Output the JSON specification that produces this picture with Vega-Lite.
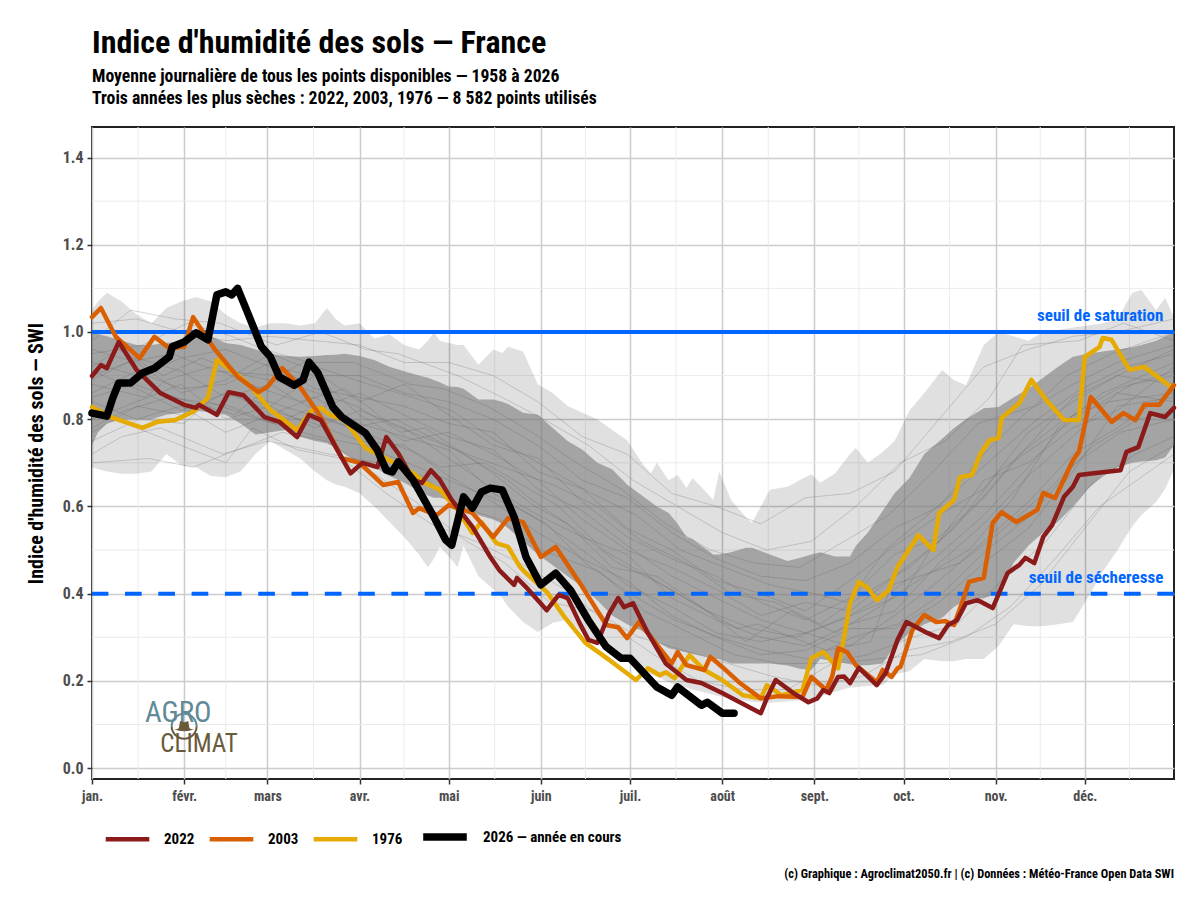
{
"$schema":"https://vega.github.io/schema/vega-lite/v6.json",
"description":"Indice d'humidité des sols en France, 1958 à 2026",
"width":1082,"height":652,
"autosize":"none",
"padding":{"left":92,"top":127,"right":26,"bottom":121},
"background":"white",
"title":{"text":"Indice d'humidité des sols — France","subtitle":["Moyenne journalière de tous les points disponibles — 1958 à 2026","Trois années les plus sèches : 2022, 2003, 1976 — 8 582 points utilisés"],"anchor":"start","frame":"group","font":"Roboto Condensed","fontSize":32,"fontWeight":"bold","color":"black","subtitleFont":"Roboto Condensed","subtitleFontSize":17.7,"subtitleFontWeight":"bold","subtitleColor":"black","subtitleLineHeight":22,"subtitlePadding":8,"offset":18},
"config":{"view":{"stroke":"#222222","strokeWidth":2},"font":"Roboto Condensed"},
"datasets":{
"enveloppe":[
{"jour":1,"max":1.05,"min":0.69,"haut":1.0,"bas":0.74},
{"jour":3,"max":1.07,"min":0.685,"haut":0.995,"bas":0.77},
{"jour":6,"max":1.09,"min":0.68,"haut":0.99,"bas":0.79},
{"jour":11,"max":1.07,"min":0.675,"haut":0.98,"bas":0.8},
{"jour":16,"max":1.04,"min":0.675,"haut":0.97,"bas":0.8},
{"jour":21,"max":1.02,"min":0.68,"haut":0.97,"bas":0.8},
{"jour":26,"max":1.055,"min":0.72,"haut":0.975,"bas":0.81},
{"jour":31,"max":1.07,"min":0.695,"haut":0.98,"bas":0.815},
{"jour":36,"max":1.08,"min":0.69,"haut":0.99,"bas":0.82},
{"jour":41,"max":1.07,"min":0.67,"haut":0.99,"bas":0.815},
{"jour":46,"max":1.04,"min":0.667,"haut":0.975,"bas":0.81},
{"jour":51,"max":1.02,"min":0.68,"haut":0.97,"bas":0.79},
{"jour":56,"max":1.01,"min":0.72,"haut":0.96,"bas":0.765},
{"jour":61,"max":1.02,"min":0.75,"haut":0.95,"bas":0.77},
{"jour":66,"max":1.02,"min":0.73,"haut":0.945,"bas":0.775},
{"jour":71,"max":1.015,"min":0.71,"haut":0.943,"bas":0.76},
{"jour":76,"max":1.02,"min":0.68,"haut":0.945,"bas":0.75},
{"jour":80,"max":1.055,"min":0.66,"haut":0.947,"bas":0.745},
{"jour":83,"max":1.03,"min":0.65,"haut":0.948,"bas":0.735},
{"jour":86,"max":1.015,"min":0.645,"haut":0.95,"bas":0.72},
{"jour":91,"max":1.02,"min":0.63,"haut":0.945,"bas":0.7},
{"jour":96,"max":0.985,"min":0.6,"haut":0.936,"bas":0.69},
{"jour":101,"max":0.995,"min":0.565,"haut":0.92,"bas":0.67},
{"jour":106,"max":0.97,"min":0.53,"haut":0.91,"bas":0.655},
{"jour":111,"max":0.96,"min":0.49,"haut":0.9,"bas":0.635},
{"jour":114,"max":0.98,"min":0.46,"haut":0.895,"bas":0.625},
{"jour":116,"max":1.0,"min":0.48,"haut":0.89,"bas":0.62},
{"jour":118,"max":0.98,"min":0.507,"haut":0.885,"bas":0.62},
{"jour":121,"max":0.975,"min":0.485,"haut":0.875,"bas":0.615},
{"jour":124,"max":0.97,"min":0.461,"haut":0.874,"bas":0.605},
{"jour":126,"max":0.97,"min":0.51,"haut":0.87,"bas":0.6},
{"jour":131,"max":0.925,"min":0.44,"haut":0.845,"bas":0.58},
{"jour":136,"max":0.96,"min":0.41,"haut":0.845,"bas":0.57},
{"jour":139,"max":0.952,"min":0.39,"haut":0.84,"bas":0.56},
{"jour":141,"max":0.966,"min":0.37,"haut":0.835,"bas":0.55},
{"jour":146,"max":0.955,"min":0.335,"haut":0.815,"bas":0.52},
{"jour":151,"max":0.88,"min":0.312,"haut":0.81,"bas":0.49},
{"jour":156,"max":0.86,"min":0.333,"haut":0.78,"bas":0.465},
{"jour":161,"max":0.83,"min":0.34,"haut":0.75,"bas":0.44},
{"jour":166,"max":0.815,"min":0.31,"haut":0.73,"bas":0.415},
{"jour":171,"max":0.8,"min":0.285,"haut":0.7,"bas":0.385},
{"jour":176,"max":0.775,"min":0.26,"haut":0.685,"bas":0.35},
{"jour":181,"max":0.752,"min":0.245,"haut":0.65,"bas":0.33},
{"jour":186,"max":0.7,"min":0.225,"haut":0.625,"bas":0.315},
{"jour":189,"max":0.676,"min":0.215,"haut":0.61,"bas":0.3},
{"jour":191,"max":0.7,"min":0.21,"haut":0.6,"bas":0.29},
{"jour":195,"max":0.66,"min":0.197,"haut":0.585,"bas":0.275},
{"jour":198,"max":0.672,"min":0.19,"haut":0.56,"bas":0.27},
{"jour":201,"max":0.642,"min":0.185,"haut":0.53,"bas":0.265},
{"jour":203,"max":0.665,"min":0.18,"haut":0.525,"bas":0.262},
{"jour":208,"max":0.63,"min":0.172,"haut":0.5,"bas":0.255},
{"jour":210,"max":0.615,"min":0.168,"haut":0.49,"bas":0.25},
{"jour":212,"max":0.68,"min":0.165,"haut":0.49,"bas":0.25},
{"jour":216,"max":0.615,"min":0.16,"haut":0.495,"bas":0.24},
{"jour":221,"max":0.575,"min":0.155,"haut":0.505,"bas":0.24},
{"jour":223,"max":0.562,"min":0.152,"haut":0.505,"bas":0.24},
{"jour":229,"max":0.638,"min":0.15,"haut":0.49,"bas":0.24},
{"jour":235,"max":0.645,"min":0.153,"haut":0.475,"bas":0.235},
{"jour":239,"max":0.66,"min":0.155,"haut":0.482,"bas":0.228},
{"jour":243,"max":0.674,"min":0.156,"haut":0.49,"bas":0.225},
{"jour":246,"max":0.654,"min":0.165,"haut":0.495,"bas":0.25},
{"jour":251,"max":0.676,"min":0.175,"haut":0.485,"bas":0.245},
{"jour":256,"max":0.72,"min":0.185,"haut":0.485,"bas":0.238},
{"jour":258,"max":0.734,"min":0.186,"haut":0.51,"bas":0.236},
{"jour":262,"max":0.7,"min":0.188,"haut":0.54,"bas":0.236},
{"jour":267,"max":0.725,"min":0.19,"haut":0.59,"bas":0.24},
{"jour":271,"max":0.75,"min":0.215,"haut":0.63,"bas":0.28},
{"jour":276,"max":0.82,"min":0.222,"haut":0.665,"bas":0.31},
{"jour":281,"max":0.86,"min":0.25,"haut":0.72,"bas":0.33},
{"jour":287,"max":0.913,"min":0.245,"haut":0.755,"bas":0.345},
{"jour":291,"max":0.89,"min":0.245,"haut":0.78,"bas":0.37},
{"jour":295,"max":0.878,"min":0.25,"haut":0.8,"bas":0.385},
{"jour":301,"max":0.97,"min":0.25,"haut":0.825,"bas":0.39},
{"jour":306,"max":1.0,"min":0.28,"haut":0.828,"bas":0.4},
{"jour":311,"max":0.99,"min":0.33,"haut":0.85,"bas":0.47},
{"jour":316,"max":0.98,"min":0.325,"haut":0.87,"bas":0.51},
{"jour":321,"max":1.0,"min":0.325,"haut":0.895,"bas":0.54},
{"jour":326,"max":1.005,"min":0.33,"haut":0.92,"bas":0.565},
{"jour":331,"max":1.01,"min":0.335,"haut":0.943,"bas":0.6},
{"jour":336,"max":1.015,"min":0.39,"haut":0.95,"bas":0.64},
{"jour":341,"max":1.02,"min":0.45,"haut":0.955,"bas":0.67},
{"jour":346,"max":1.03,"min":0.5,"haut":0.96,"bas":0.69},
{"jour":351,"max":1.09,"min":0.555,"haut":0.965,"bas":0.7},
{"jour":354,"max":1.096,"min":0.58,"haut":0.97,"bas":0.703},
{"jour":359,"max":1.05,"min":0.61,"haut":0.98,"bas":0.706},
{"jour":362,"max":1.078,"min":0.64,"haut":0.99,"bas":0.712},
{"jour":365,"max":1.035,"min":0.685,"haut":1.0,"bas":0.74}
],
"traces":[
{"t":1,"jour":1,"v":1.02},{"t":1,"jour":16,"v":1.03},{"t":1,"jour":31,"v":1.0},{"t":1,"jour":46,"v":0.98},{"t":1,"jour":61,"v":0.99},{"t":1,"jour":76,"v":0.98},{"t":1,"jour":91,"v":0.97},{"t":1,"jour":106,"v":0.93},{"t":1,"jour":121,"v":0.93},{"t":1,"jour":136,"v":0.9},{"t":1,"jour":151,"v":0.84},{"t":1,"jour":166,"v":0.76},{"t":1,"jour":181,"v":0.72},{"t":1,"jour":196,"v":0.63},{"t":1,"jour":211,"v":0.6},{"t":1,"jour":226,"v":0.56},{"t":1,"jour":241,"v":0.62},{"t":1,"jour":256,"v":0.63},{"t":1,"jour":271,"v":0.68},{"t":1,"jour":286,"v":0.8},{"t":1,"jour":301,"v":0.92},{"t":1,"jour":316,"v":0.96},{"t":1,"jour":331,"v":0.99},{"t":1,"jour":346,"v":1.0},{"t":1,"jour":365,"v":1.03},
{"t":2,"jour":1,"v":0.98},{"t":2,"jour":14,"v":1.05},{"t":2,"jour":29,"v":1.03},{"t":2,"jour":44,"v":1.02},{"t":2,"jour":63,"v":0.97},{"t":2,"jour":78,"v":1.0},{"t":2,"jour":93,"v":0.96},{"t":2,"jour":104,"v":0.95},{"t":2,"jour":124,"v":0.9},{"t":2,"jour":139,"v":0.85},{"t":2,"jour":153,"v":0.8},{"t":2,"jour":168,"v":0.74},{"t":2,"jour":183,"v":0.66},{"t":2,"jour":198,"v":0.6},{"t":2,"jour":213,"v":0.54},{"t":2,"jour":228,"v":0.5},{"t":2,"jour":243,"v":0.52},{"t":2,"jour":258,"v":0.6},{"t":2,"jour":273,"v":0.7},{"t":2,"jour":288,"v":0.75},{"t":2,"jour":303,"v":0.85},{"t":2,"jour":314,"v":0.97},{"t":2,"jour":333,"v":0.98},{"t":2,"jour":348,"v":1.02},{"t":2,"jour":365,"v":0.98},
{"t":3,"jour":1,"v":0.95},{"t":3,"jour":18,"v":0.97},{"t":3,"jour":33,"v":1.02},{"t":3,"jour":48,"v":0.99},{"t":3,"jour":59,"v":0.96},{"t":3,"jour":74,"v":0.93},{"t":3,"jour":89,"v":0.93},{"t":3,"jour":108,"v":0.88},{"t":3,"jour":119,"v":0.87},{"t":3,"jour":134,"v":0.83},{"t":3,"jour":149,"v":0.77},{"t":3,"jour":164,"v":0.7},{"t":3,"jour":179,"v":0.64},{"t":3,"jour":194,"v":0.56},{"t":3,"jour":209,"v":0.5},{"t":3,"jour":224,"v":0.47},{"t":3,"jour":239,"v":0.46},{"t":3,"jour":254,"v":0.52},{"t":3,"jour":269,"v":0.58},{"t":3,"jour":284,"v":0.68},{"t":3,"jour":299,"v":0.79},{"t":3,"jour":318,"v":0.83},{"t":3,"jour":329,"v":0.9},{"t":3,"jour":344,"v":0.95},{"t":3,"jour":365,"v":1.0},
{"t":4,"jour":1,"v":0.9},{"t":4,"jour":13,"v":0.93},{"t":4,"jour":28,"v":0.95},{"t":4,"jour":43,"v":0.91},{"t":4,"jour":64,"v":0.9},{"t":4,"jour":72,"v":0.93},{"t":4,"jour":94,"v":0.88},{"t":4,"jour":109,"v":0.85},{"t":4,"jour":122,"v":0.82},{"t":4,"jour":137,"v":0.75},{"t":4,"jour":146,"v":0.72},{"t":4,"jour":169,"v":0.63},{"t":4,"jour":184,"v":0.58},{"t":4,"jour":199,"v":0.5},{"t":4,"jour":214,"v":0.46},{"t":4,"jour":229,"v":0.42},{"t":4,"jour":244,"v":0.4},{"t":4,"jour":255,"v":0.38},{"t":4,"jour":268,"v":0.5},{"t":4,"jour":289,"v":0.62},{"t":4,"jour":304,"v":0.71},{"t":4,"jour":319,"v":0.8},{"t":4,"jour":334,"v":0.87},{"t":4,"jour":349,"v":0.92},{"t":4,"jour":365,"v":0.95},
{"t":5,"jour":1,"v":0.88},{"t":5,"jour":19,"v":0.85},{"t":5,"jour":26,"v":0.89},{"t":5,"jour":41,"v":0.92},{"t":5,"jour":58,"v":0.87},{"t":5,"jour":71,"v":0.84},{"t":5,"jour":86,"v":0.87},{"t":5,"jour":101,"v":0.79},{"t":5,"jour":116,"v":0.75},{"t":5,"jour":131,"v":0.71},{"t":5,"jour":156,"v":0.65},{"t":5,"jour":171,"v":0.6},{"t":5,"jour":186,"v":0.52},{"t":5,"jour":201,"v":0.47},{"t":5,"jour":216,"v":0.4},{"t":5,"jour":231,"v":0.38},{"t":5,"jour":246,"v":0.33},{"t":5,"jour":261,"v":0.4},{"t":5,"jour":276,"v":0.46},{"t":5,"jour":291,"v":0.55},{"t":5,"jour":306,"v":0.68},{"t":5,"jour":321,"v":0.75},{"t":5,"jour":336,"v":0.82},{"t":5,"jour":351,"v":0.88},{"t":5,"jour":365,"v":0.9},
{"t":6,"jour":1,"v":0.85},{"t":6,"jour":15,"v":0.88},{"t":6,"jour":34,"v":0.84},{"t":6,"jour":49,"v":0.81},{"t":6,"jour":56,"v":0.85},{"t":6,"jour":79,"v":0.8},{"t":6,"jour":88,"v":0.78},{"t":6,"jour":103,"v":0.8},{"t":6,"jour":126,"v":0.72},{"t":6,"jour":141,"v":0.66},{"t":6,"jour":148,"v":0.62},{"t":6,"jour":163,"v":0.55},{"t":6,"jour":178,"v":0.47},{"t":6,"jour":193,"v":0.42},{"t":6,"jour":208,"v":0.36},{"t":6,"jour":223,"v":0.32},{"t":6,"jour":238,"v":0.3},{"t":6,"jour":253,"v":0.34},{"t":6,"jour":274,"v":0.4},{"t":6,"jour":283,"v":0.5},{"t":6,"jour":298,"v":0.6},{"t":6,"jour":313,"v":0.72},{"t":6,"jour":328,"v":0.8},{"t":6,"jour":343,"v":0.84},{"t":6,"jour":365,"v":0.86},
{"t":7,"jour":1,"v":0.78},{"t":7,"jour":12,"v":0.82},{"t":7,"jour":27,"v":0.85},{"t":7,"jour":47,"v":0.83},{"t":7,"jour":62,"v":0.79},{"t":7,"jour":73,"v":0.82},{"t":7,"jour":96,"v":0.76},{"t":7,"jour":111,"v":0.72},{"t":7,"jour":118,"v":0.69},{"t":7,"jour":133,"v":0.7},{"t":7,"jour":158,"v":0.6},{"t":7,"jour":173,"v":0.5},{"t":7,"jour":188,"v":0.44},{"t":7,"jour":203,"v":0.38},{"t":7,"jour":218,"v":0.32},{"t":7,"jour":225,"v":0.33},{"t":7,"jour":248,"v":0.27},{"t":7,"jour":263,"v":0.29},{"t":7,"jour":270,"v":0.42},{"t":7,"jour":293,"v":0.47},{"t":7,"jour":308,"v":0.55},{"t":7,"jour":323,"v":0.64},{"t":7,"jour":338,"v":0.74},{"t":7,"jour":353,"v":0.8},{"t":7,"jour":365,"v":0.82},
{"t":8,"jour":1,"v":0.75},{"t":8,"jour":17,"v":0.8},{"t":8,"jour":32,"v":0.79},{"t":8,"jour":40,"v":0.84},{"t":8,"jour":57,"v":0.8},{"t":8,"jour":77,"v":0.76},{"t":8,"jour":92,"v":0.74},{"t":8,"jour":107,"v":0.7},{"t":8,"jour":128,"v":0.64},{"t":8,"jour":143,"v":0.6},{"t":8,"jour":154,"v":0.56},{"t":8,"jour":167,"v":0.47},{"t":8,"jour":182,"v":0.4},{"t":8,"jour":197,"v":0.34},{"t":8,"jour":212,"v":0.3},{"t":8,"jour":227,"v":0.27},{"t":8,"jour":242,"v":0.25},{"t":8,"jour":257,"v":0.3},{"t":8,"jour":272,"v":0.33},{"t":8,"jour":287,"v":0.4},{"t":8,"jour":302,"v":0.5},{"t":8,"jour":317,"v":0.58},{"t":8,"jour":332,"v":0.7},{"t":8,"jour":347,"v":0.77},{"t":8,"jour":365,"v":0.8},
{"t":9,"jour":1,"v":0.72},{"t":9,"jour":11,"v":0.76},{"t":9,"jour":24,"v":0.78},{"t":9,"jour":45,"v":0.72},{"t":9,"jour":60,"v":0.75},{"t":9,"jour":81,"v":0.72},{"t":9,"jour":97,"v":0.7},{"t":9,"jour":112,"v":0.67},{"t":9,"jour":125,"v":0.6},{"t":9,"jour":138,"v":0.57},{"t":9,"jour":152,"v":0.5},{"t":9,"jour":172,"v":0.45},{"t":9,"jour":187,"v":0.36},{"t":9,"jour":202,"v":0.31},{"t":9,"jour":217,"v":0.26},{"t":9,"jour":232,"v":0.24},{"t":9,"jour":247,"v":0.24},{"t":9,"jour":262,"v":0.26},{"t":9,"jour":277,"v":0.3},{"t":9,"jour":292,"v":0.33},{"t":9,"jour":307,"v":0.43},{"t":9,"jour":322,"v":0.52},{"t":9,"jour":337,"v":0.65},{"t":9,"jour":352,"v":0.72},{"t":9,"jour":365,"v":0.76},
{"t":10,"jour":1,"v":0.7},{"t":10,"jour":20,"v":0.71},{"t":10,"jour":35,"v":0.69},{"t":10,"jour":50,"v":0.73},{"t":10,"jour":65,"v":0.77},{"t":10,"jour":80,"v":0.75},{"t":10,"jour":95,"v":0.68},{"t":10,"jour":110,"v":0.61},{"t":10,"jour":127,"v":0.52},{"t":10,"jour":140,"v":0.47},{"t":10,"jour":155,"v":0.38},{"t":10,"jour":170,"v":0.36},{"t":10,"jour":185,"v":0.3},{"t":10,"jour":200,"v":0.27},{"t":10,"jour":215,"v":0.24},{"t":10,"jour":230,"v":0.21},{"t":10,"jour":245,"v":0.19},{"t":10,"jour":260,"v":0.21},{"t":10,"jour":275,"v":0.27},{"t":10,"jour":290,"v":0.29},{"t":10,"jour":305,"v":0.33},{"t":10,"jour":320,"v":0.42},{"t":10,"jour":335,"v":0.55},{"t":10,"jour":350,"v":0.68},{"t":10,"jour":365,"v":0.74},
{"t":11,"jour":1,"v":0.82},{"t":11,"jour":16,"v":0.78},{"t":11,"jour":31,"v":0.74},{"t":11,"jour":46,"v":0.7},{"t":11,"jour":55,"v":0.78},{"t":11,"jour":70,"v":0.73},{"t":11,"jour":85,"v":0.71},{"t":11,"jour":100,"v":0.63},{"t":11,"jour":115,"v":0.56},{"t":11,"jour":130,"v":0.52},{"t":11,"jour":145,"v":0.47},{"t":11,"jour":160,"v":0.41},{"t":11,"jour":175,"v":0.33},{"t":11,"jour":190,"v":0.26},{"t":11,"jour":205,"v":0.2},{"t":11,"jour":220,"v":0.18},{"t":11,"jour":235,"v":0.18},{"t":11,"jour":250,"v":0.24},{"t":11,"jour":265,"v":0.25},{"t":11,"jour":280,"v":0.26},{"t":11,"jour":295,"v":0.3},{"t":11,"jour":310,"v":0.37},{"t":11,"jour":325,"v":0.48},{"t":11,"jour":340,"v":0.6},{"t":11,"jour":365,"v":0.72},
{"t":12,"jour":1,"v":0.92},{"t":12,"jour":10,"v":0.96},{"t":12,"jour":25,"v":0.9},{"t":12,"jour":38,"v":0.94},{"t":12,"jour":53,"v":0.9},{"t":12,"jour":68,"v":0.88},{"t":12,"jour":90,"v":0.83},{"t":12,"jour":105,"v":0.77},{"t":12,"jour":113,"v":0.78},{"t":12,"jour":135,"v":0.68},{"t":12,"jour":150,"v":0.6},{"t":12,"jour":161,"v":0.56},{"t":12,"jour":176,"v":0.46},{"t":12,"jour":191,"v":0.44},{"t":12,"jour":206,"v":0.37},{"t":12,"jour":221,"v":0.29},{"t":12,"jour":236,"v":0.36},{"t":12,"jour":251,"v":0.31},{"t":12,"jour":266,"v":0.37},{"t":12,"jour":281,"v":0.44},{"t":12,"jour":296,"v":0.5},{"t":12,"jour":311,"v":0.62},{"t":12,"jour":326,"v":0.78},{"t":12,"jour":341,"v":0.86},{"t":12,"jour":365,"v":0.93},
{"t":13,"jour":1,"v":0.93},{"t":13,"jour":16,"v":0.9},{"t":13,"jour":31,"v":0.94},{"t":13,"jour":46,"v":0.96},{"t":13,"jour":61,"v":0.92},{"t":13,"jour":76,"v":0.9},{"t":13,"jour":91,"v":0.9},{"t":13,"jour":106,"v":0.86},{"t":13,"jour":121,"v":0.84},{"t":13,"jour":136,"v":0.8},{"t":13,"jour":151,"v":0.74},{"t":13,"jour":166,"v":0.66},{"t":13,"jour":181,"v":0.62},{"t":13,"jour":196,"v":0.54},{"t":13,"jour":211,"v":0.48},{"t":13,"jour":226,"v":0.44},{"t":13,"jour":241,"v":0.43},{"t":13,"jour":256,"v":0.47},{"t":13,"jour":271,"v":0.55},{"t":13,"jour":286,"v":0.6},{"t":13,"jour":301,"v":0.72},{"t":13,"jour":316,"v":0.82},{"t":13,"jour":331,"v":0.88},{"t":13,"jour":346,"v":0.93},{"t":13,"jour":365,"v":0.97},
{"t":14,"jour":1,"v":0.86},{"t":14,"jour":16,"v":0.91},{"t":14,"jour":31,"v":0.87},{"t":14,"jour":46,"v":0.88},{"t":14,"jour":61,"v":0.93},{"t":14,"jour":76,"v":0.87},{"t":14,"jour":91,"v":0.85},{"t":14,"jour":106,"v":0.83},{"t":14,"jour":121,"v":0.79},{"t":14,"jour":136,"v":0.77},{"t":14,"jour":151,"v":0.68},{"t":14,"jour":166,"v":0.64},{"t":14,"jour":181,"v":0.55},{"t":14,"jour":196,"v":0.5},{"t":14,"jour":211,"v":0.43},{"t":14,"jour":226,"v":0.4},{"t":14,"jour":241,"v":0.36},{"t":14,"jour":256,"v":0.43},{"t":14,"jour":271,"v":0.51},{"t":14,"jour":286,"v":0.58},{"t":14,"jour":301,"v":0.64},{"t":14,"jour":316,"v":0.77},{"t":14,"jour":331,"v":0.84},{"t":14,"jour":346,"v":0.9},{"t":14,"jour":365,"v":0.88},
{"t":15,"jour":1,"v":0.91},{"t":15,"jour":16,"v":0.87},{"t":15,"jour":31,"v":0.82},{"t":15,"jour":46,"v":0.86},{"t":15,"jour":61,"v":0.83},{"t":15,"jour":76,"v":0.9},{"t":15,"jour":91,"v":0.81},{"t":15,"jour":106,"v":0.75},{"t":15,"jour":121,"v":0.77},{"t":15,"jour":136,"v":0.72},{"t":15,"jour":151,"v":0.66},{"t":15,"jour":166,"v":0.57},{"t":15,"jour":181,"v":0.5},{"t":15,"jour":196,"v":0.46},{"t":15,"jour":211,"v":0.41},{"t":15,"jour":226,"v":0.35},{"t":15,"jour":241,"v":0.38},{"t":15,"jour":256,"v":0.36},{"t":15,"jour":271,"v":0.44},{"t":15,"jour":286,"v":0.52},{"t":15,"jour":301,"v":0.66},{"t":15,"jour":316,"v":0.7},{"t":15,"jour":331,"v":0.78},{"t":15,"jour":346,"v":0.82},{"t":15,"jour":365,"v":0.92},
{"t":16,"jour":1,"v":0.8},{"t":16,"jour":16,"v":0.84},{"t":16,"jour":31,"v":0.88},{"t":16,"jour":46,"v":0.8},{"t":16,"jour":61,"v":0.83},{"t":16,"jour":76,"v":0.78},{"t":16,"jour":91,"v":0.82},{"t":16,"jour":106,"v":0.78},{"t":16,"jour":121,"v":0.71},{"t":16,"jour":136,"v":0.64},{"t":16,"jour":151,"v":0.58},{"t":16,"jour":166,"v":0.53},{"t":16,"jour":181,"v":0.49},{"t":16,"jour":196,"v":0.39},{"t":16,"jour":211,"v":0.34},{"t":16,"jour":226,"v":0.3},{"t":16,"jour":241,"v":0.28},{"t":16,"jour":256,"v":0.33},{"t":16,"jour":271,"v":0.36},{"t":16,"jour":286,"v":0.47},{"t":16,"jour":301,"v":0.56},{"t":16,"jour":316,"v":0.67},{"t":16,"jour":331,"v":0.76},{"t":16,"jour":346,"v":0.86},{"t":16,"jour":365,"v":0.84},
{"t":17,"jour":1,"v":0.96},{"t":17,"jour":16,"v":0.93},{"t":17,"jour":31,"v":0.86},{"t":17,"jour":46,"v":0.89},{"t":17,"jour":61,"v":0.95},{"t":17,"jour":76,"v":0.91},{"t":17,"jour":91,"v":0.84},{"t":17,"jour":106,"v":0.88},{"t":17,"jour":121,"v":0.81},{"t":17,"jour":136,"v":0.74},{"t":17,"jour":151,"v":0.71},{"t":17,"jour":166,"v":0.61},{"t":17,"jour":181,"v":0.53},{"t":17,"jour":196,"v":0.48},{"t":17,"jour":211,"v":0.44},{"t":17,"jour":226,"v":0.38},{"t":17,"jour":241,"v":0.34},{"t":17,"jour":256,"v":0.39},{"t":17,"jour":271,"v":0.49},{"t":17,"jour":286,"v":0.53},{"t":17,"jour":301,"v":0.62},{"t":17,"jour":316,"v":0.74},{"t":17,"jour":331,"v":0.85},{"t":17,"jour":346,"v":0.9},{"t":17,"jour":365,"v":0.96},
{"t":18,"jour":1,"v":0.84},{"t":18,"jour":16,"v":0.8},{"t":18,"jour":31,"v":0.83},{"t":18,"jour":46,"v":0.77},{"t":18,"jour":61,"v":0.81},{"t":18,"jour":76,"v":0.85},{"t":18,"jour":91,"v":0.79},{"t":18,"jour":106,"v":0.76},{"t":18,"jour":121,"v":0.73},{"t":18,"jour":136,"v":0.63},{"t":18,"jour":151,"v":0.57},{"t":18,"jour":166,"v":0.5},{"t":18,"jour":181,"v":0.42},{"t":18,"jour":196,"v":0.37},{"t":18,"jour":211,"v":0.31},{"t":18,"jour":226,"v":0.29},{"t":18,"jour":241,"v":0.31},{"t":18,"jour":256,"v":0.28},{"t":18,"jour":271,"v":0.35},{"t":18,"jour":286,"v":0.43},{"t":18,"jour":301,"v":0.52},{"t":18,"jour":316,"v":0.61},{"t":18,"jour":331,"v":0.72},{"t":18,"jour":346,"v":0.78},{"t":18,"jour":365,"v":0.87},
{"t":19,"jour":1,"v":0.89},{"t":19,"jour":16,"v":0.94},{"t":19,"jour":31,"v":0.91},{"t":19,"jour":46,"v":0.85},{"t":19,"jour":61,"v":0.88},{"t":19,"jour":76,"v":0.82},{"t":19,"jour":91,"v":0.86},{"t":19,"jour":106,"v":0.81},{"t":19,"jour":121,"v":0.76},{"t":19,"jour":136,"v":0.73},{"t":19,"jour":151,"v":0.64},{"t":19,"jour":166,"v":0.59},{"t":19,"jour":181,"v":0.51},{"t":19,"jour":196,"v":0.44},{"t":19,"jour":211,"v":0.39},{"t":19,"jour":226,"v":0.34},{"t":19,"jour":241,"v":0.31},{"t":19,"jour":256,"v":0.35},{"t":19,"jour":271,"v":0.41},{"t":19,"jour":286,"v":0.49},{"t":19,"jour":301,"v":0.58},{"t":19,"jour":316,"v":0.69},{"t":19,"jour":331,"v":0.81},{"t":19,"jour":346,"v":0.87},{"t":19,"jour":365,"v":0.91},
{"t":20,"jour":1,"v":0.77},{"t":20,"jour":16,"v":0.83},{"t":20,"jour":31,"v":0.81},{"t":20,"jour":46,"v":0.86},{"t":20,"jour":61,"v":0.82},{"t":20,"jour":76,"v":0.79},{"t":20,"jour":91,"v":0.75},{"t":20,"jour":106,"v":0.74},{"t":20,"jour":121,"v":0.67},{"t":20,"jour":136,"v":0.61},{"t":20,"jour":151,"v":0.54},{"t":20,"jour":166,"v":0.48},{"t":20,"jour":181,"v":0.43},{"t":20,"jour":196,"v":0.35},{"t":20,"jour":211,"v":0.3},{"t":20,"jour":226,"v":0.26},{"t":20,"jour":241,"v":0.27},{"t":20,"jour":256,"v":0.32},{"t":20,"jour":271,"v":0.32},{"t":20,"jour":286,"v":0.38},{"t":20,"jour":301,"v":0.47},{"t":20,"jour":316,"v":0.55},{"t":20,"jour":331,"v":0.68},{"t":20,"jour":346,"v":0.83},{"t":20,"jour":365,"v":0.85}
],
"annees":[
{"serie":"1976","jour":1,"v":0.828},{"serie":"1976","jour":8,"v":0.803},{"serie":"1976","jour":18,"v":0.78},{"serie":"1976","jour":23,"v":0.794},{"serie":"1976","jour":29,"v":0.798},{"serie":"1976","jour":35,"v":0.817},{"serie":"1976","jour":40,"v":0.849},{"serie":"1976","jour":43,"v":0.936},{"serie":"1976","jour":50,"v":0.901},{"serie":"1976","jour":54,"v":0.878},{"serie":"1976","jour":61,"v":0.821},{"serie":"1976","jour":70,"v":0.775},{"serie":"1976","jour":75,"v":0.821},{"serie":"1976","jour":78,"v":0.826},{"serie":"1976","jour":81,"v":0.81},{"serie":"1976","jour":86,"v":0.798},{"serie":"1976","jour":93,"v":0.734},{"serie":"1976","jour":101,"v":0.706},{"serie":"1976","jour":109,"v":0.676},{"serie":"1976","jour":113,"v":0.654},{"serie":"1976","jour":118,"v":0.638},{"serie":"1976","jour":124,"v":0.592},{"serie":"1976","jour":129,"v":0.539},{"serie":"1976","jour":132,"v":0.564},{"serie":"1976","jour":137,"v":0.516},{"serie":"1976","jour":141,"v":0.507},{"serie":"1976","jour":145,"v":0.461},{"serie":"1976","jour":147,"v":0.447},{"serie":"1976","jour":154,"v":0.404},{"serie":"1976","jour":160,"v":0.346},{"serie":"1976","jour":167,"v":0.287},{"serie":"1976","jour":175,"v":0.248},{"serie":"1976","jour":184,"v":0.202},{"serie":"1976","jour":188,"v":0.229},{"serie":"1976","jour":192,"v":0.213},{"serie":"1976","jour":194,"v":0.22},{"serie":"1976","jour":197,"v":0.206},{"serie":"1976","jour":202,"v":0.259},{"serie":"1976","jour":207,"v":0.225},{"serie":"1976","jour":213,"v":0.202},{"serie":"1976","jour":220,"v":0.167},{"serie":"1976","jour":226,"v":0.16},{"serie":"1976","jour":228,"v":0.19},{"serie":"1976","jour":233,"v":0.167},{"serie":"1976","jour":240,"v":0.179},{"serie":"1976","jour":243,"v":0.252},{"serie":"1976","jour":247,"v":0.266},{"serie":"1976","jour":252,"v":0.229},{"serie":"1976","jour":254,"v":0.3},{"serie":"1976","jour":256,"v":0.378},{"serie":"1976","jour":259,"v":0.427},{"serie":"1976","jour":262,"v":0.413},{"serie":"1976","jour":265,"v":0.385},{"serie":"1976","jour":269,"v":0.408},{"serie":"1976","jour":272,"v":0.461},{"serie":"1976","jour":279,"v":0.534},{"serie":"1976","jour":284,"v":0.5},{"serie":"1976","jour":286,"v":0.585},{"serie":"1976","jour":291,"v":0.615},{"serie":"1976","jour":293,"v":0.667},{"serie":"1976","jour":297,"v":0.672},{"serie":"1976","jour":300,"v":0.722},{"serie":"1976","jour":303,"v":0.752},{"serie":"1976","jour":306,"v":0.757},{"serie":"1976","jour":307,"v":0.803},{"serie":"1976","jour":313,"v":0.837},{"serie":"1976","jour":317,"v":0.89},{"serie":"1976","jour":322,"v":0.844},{"serie":"1976","jour":328,"v":0.798},{"serie":"1976","jour":333,"v":0.798},{"serie":"1976","jour":335,"v":0.943},{"serie":"1976","jour":340,"v":0.966},{"serie":"1976","jour":341,"v":0.986},{"serie":"1976","jour":344,"v":0.982},{"serie":"1976","jour":350,"v":0.913},{"serie":"1976","jour":355,"v":0.92},{"serie":"1976","jour":364,"v":0.874},
{"serie":"2003","jour":1,"v":1.034},{"serie":"2003","jour":4,"v":1.055},{"serie":"2003","jour":9,"v":0.989},{"serie":"2003","jour":17,"v":0.94},{"serie":"2003","jour":22,"v":0.989},{"serie":"2003","jour":27,"v":0.963},{"serie":"2003","jour":32,"v":0.966},{"serie":"2003","jour":35,"v":1.034},{"serie":"2003","jour":42,"v":0.963},{"serie":"2003","jour":50,"v":0.897},{"serie":"2003","jour":57,"v":0.862},{"serie":"2003","jour":60,"v":0.874},{"serie":"2003","jour":65,"v":0.917},{"serie":"2003","jour":71,"v":0.874},{"serie":"2003","jour":78,"v":0.805},{"serie":"2003","jour":85,"v":0.711},{"serie":"2003","jour":91,"v":0.7},{"serie":"2003","jour":99,"v":0.649},{"serie":"2003","jour":104,"v":0.656},{"serie":"2003","jour":109,"v":0.585},{"serie":"2003","jour":111,"v":0.596},{"serie":"2003","jour":117,"v":0.58},{"serie":"2003","jour":121,"v":0.603},{"serie":"2003","jour":129,"v":0.585},{"serie":"2003","jour":136,"v":0.53},{"serie":"2003","jour":141,"v":0.573},{"serie":"2003","jour":146,"v":0.564},{"serie":"2003","jour":152,"v":0.484},{"serie":"2003","jour":157,"v":0.507},{"serie":"2003","jour":166,"v":0.415},{"serie":"2003","jour":174,"v":0.328},{"serie":"2003","jour":178,"v":0.323},{"serie":"2003","jour":181,"v":0.298},{"serie":"2003","jour":185,"v":0.335},{"serie":"2003","jour":196,"v":0.24},{"serie":"2003","jour":198,"v":0.266},{"serie":"2003","jour":201,"v":0.236},{"serie":"2003","jour":207,"v":0.225},{"serie":"2003","jour":209,"v":0.255},{"serie":"2003","jour":213,"v":0.232},{"serie":"2003","jour":219,"v":0.195},{"serie":"2003","jour":226,"v":0.16},{"serie":"2003","jour":232,"v":0.165},{"serie":"2003","jour":240,"v":0.163},{"serie":"2003","jour":243,"v":0.209},{"serie":"2003","jour":248,"v":0.179},{"serie":"2003","jour":250,"v":0.21},{"serie":"2003","jour":252,"v":0.275},{"serie":"2003","jour":255,"v":0.266},{"serie":"2003","jour":258,"v":0.236},{"serie":"2003","jour":265,"v":0.197},{"serie":"2003","jour":267,"v":0.225},{"serie":"2003","jour":270,"v":0.209},{"serie":"2003","jour":272,"v":0.229},{"serie":"2003","jour":273,"v":0.232},{"serie":"2003","jour":277,"v":0.317},{"serie":"2003","jour":281,"v":0.351},{"serie":"2003","jour":285,"v":0.335},{"serie":"2003","jour":288,"v":0.337},{"serie":"2003","jour":291,"v":0.328},{"serie":"2003","jour":294,"v":0.385},{"serie":"2003","jour":296,"v":0.427},{"serie":"2003","jour":301,"v":0.436},{"serie":"2003","jour":304,"v":0.562},{"serie":"2003","jour":307,"v":0.587},{"serie":"2003","jour":312,"v":0.564},{"serie":"2003","jour":319,"v":0.592},{"serie":"2003","jour":321,"v":0.631},{"serie":"2003","jour":325,"v":0.619},{"serie":"2003","jour":331,"v":0.706},{"serie":"2003","jour":333,"v":0.725},{"serie":"2003","jour":337,"v":0.851},{"serie":"2003","jour":344,"v":0.794},{"serie":"2003","jour":348,"v":0.814},{"serie":"2003","jour":352,"v":0.798},{"serie":"2003","jour":355,"v":0.833},{"serie":"2003","jour":360,"v":0.833},{"serie":"2003","jour":365,"v":0.878},
{"serie":"2022","jour":1,"v":0.899},{"serie":"2022","jour":4,"v":0.924},{"serie":"2022","jour":6,"v":0.917},{"serie":"2022","jour":10,"v":0.977},{"serie":"2022","jour":16,"v":0.913},{"serie":"2022","jour":24,"v":0.86},{"serie":"2022","jour":32,"v":0.833},{"serie":"2022","jour":36,"v":0.826},{"serie":"2022","jour":37,"v":0.833},{"serie":"2022","jour":43,"v":0.81},{"serie":"2022","jour":47,"v":0.862},{"serie":"2022","jour":52,"v":0.855},{"serie":"2022","jour":59,"v":0.805},{"serie":"2022","jour":64,"v":0.794},{"serie":"2022","jour":70,"v":0.759},{"serie":"2022","jour":74,"v":0.81},{"serie":"2022","jour":78,"v":0.798},{"serie":"2022","jour":83,"v":0.736},{"serie":"2022","jour":88,"v":0.676},{"serie":"2022","jour":92,"v":0.7},{"serie":"2022","jour":97,"v":0.69},{"serie":"2022","jour":100,"v":0.759},{"serie":"2022","jour":104,"v":0.722},{"serie":"2022","jour":109,"v":0.661},{"serie":"2022","jour":112,"v":0.654},{"serie":"2022","jour":115,"v":0.683},{"serie":"2022","jour":118,"v":0.661},{"serie":"2022","jour":122,"v":0.615},{"serie":"2022","jour":129,"v":0.553},{"serie":"2022","jour":135,"v":0.484},{"serie":"2022","jour":138,"v":0.454},{"serie":"2022","jour":143,"v":0.42},{"serie":"2022","jour":144,"v":0.436},{"serie":"2022","jour":147,"v":0.415},{"serie":"2022","jour":154,"v":0.362},{"serie":"2022","jour":158,"v":0.397},{"serie":"2022","jour":161,"v":0.39},{"serie":"2022","jour":165,"v":0.333},{"serie":"2022","jour":168,"v":0.294},{"serie":"2022","jour":171,"v":0.287},{"serie":"2022","jour":175,"v":0.355},{"serie":"2022","jour":178,"v":0.39},{"serie":"2022","jour":180,"v":0.369},{"serie":"2022","jour":183,"v":0.378},{"serie":"2022","jour":188,"v":0.31},{"serie":"2022","jour":194,"v":0.24},{"serie":"2022","jour":201,"v":0.202},{"serie":"2022","jour":206,"v":0.195},{"serie":"2022","jour":213,"v":0.172},{"serie":"2022","jour":226,"v":0.126},{"serie":"2022","jour":228,"v":0.16},{"serie":"2022","jour":231,"v":0.202},{"serie":"2022","jour":237,"v":0.172},{"serie":"2022","jour":242,"v":0.151},{"serie":"2022","jour":245,"v":0.16},{"serie":"2022","jour":247,"v":0.179},{"serie":"2022","jour":249,"v":0.172},{"serie":"2022","jour":252,"v":0.209},{"serie":"2022","jour":254,"v":0.21},{"serie":"2022","jour":256,"v":0.195},{"serie":"2022","jour":259,"v":0.23},{"serie":"2022","jour":265,"v":0.19},{"serie":"2022","jour":268,"v":0.218},{"serie":"2022","jour":272,"v":0.294},{"serie":"2022","jour":275,"v":0.335},{"serie":"2022","jour":282,"v":0.31},{"serie":"2022","jour":286,"v":0.298},{"serie":"2022","jour":289,"v":0.328},{"serie":"2022","jour":292,"v":0.339},{"serie":"2022","jour":295,"v":0.378},{"serie":"2022","jour":299,"v":0.385},{"serie":"2022","jour":304,"v":0.367},{"serie":"2022","jour":307,"v":0.415},{"serie":"2022","jour":309,"v":0.447},{"serie":"2022","jour":313,"v":0.466},{"serie":"2022","jour":315,"v":0.482},{"serie":"2022","jour":318,"v":0.47},{"serie":"2022","jour":321,"v":0.53},{"serie":"2022","jour":324,"v":0.557},{"serie":"2022","jour":328,"v":0.622},{"serie":"2022","jour":331,"v":0.645},{"serie":"2022","jour":333,"v":0.672},{"serie":"2022","jour":338,"v":0.676},{"serie":"2022","jour":347,"v":0.683},{"serie":"2022","jour":349,"v":0.725},{"serie":"2022","jour":353,"v":0.736},{"serie":"2022","jour":357,"v":0.814},{"serie":"2022","jour":362,"v":0.805},{"serie":"2022","jour":365,"v":0.826},
{"serie":"2026 — année en cours","jour":1,"v":0.814},{"serie":"2026 — année en cours","jour":6,"v":0.807},{"serie":"2026 — année en cours","jour":8,"v":0.849},{"serie":"2026 — année en cours","jour":10,"v":0.883},{"serie":"2026 — année en cours","jour":14,"v":0.883},{"serie":"2026 — année en cours","jour":18,"v":0.906},{"serie":"2026 — année en cours","jour":22,"v":0.917},{"serie":"2026 — année en cours","jour":27,"v":0.943},{"serie":"2026 — année en cours","jour":28,"v":0.966},{"serie":"2026 — année en cours","jour":32,"v":0.977},{"serie":"2026 — année en cours","jour":36,"v":0.998},{"serie":"2026 — année en cours","jour":40,"v":0.982},{"serie":"2026 — année en cours","jour":43,"v":1.085},{"serie":"2026 — année en cours","jour":46,"v":1.092},{"serie":"2026 — année en cours","jour":48,"v":1.085},{"serie":"2026 — année en cours","jour":50,"v":1.1},{"serie":"2026 — année en cours","jour":53,"v":1.05},{"serie":"2026 — année en cours","jour":58,"v":0.966},{"serie":"2026 — année en cours","jour":61,"v":0.943},{"serie":"2026 — année en cours","jour":64,"v":0.897},{"serie":"2026 — année en cours","jour":69,"v":0.878},{"serie":"2026 — année en cours","jour":72,"v":0.89},{"serie":"2026 — année en cours","jour":74,"v":0.931},{"serie":"2026 — année en cours","jour":77,"v":0.906},{"serie":"2026 — année en cours","jour":82,"v":0.828},{"serie":"2026 — année en cours","jour":85,"v":0.805},{"serie":"2026 — année en cours","jour":93,"v":0.768},{"serie":"2026 — année en cours","jour":97,"v":0.729},{"serie":"2026 — année en cours","jour":100,"v":0.683},{"serie":"2026 — année en cours","jour":102,"v":0.679},{"serie":"2026 — année en cours","jour":104,"v":0.702},{"serie":"2026 — année en cours","jour":109,"v":0.661},{"serie":"2026 — année en cours","jour":116,"v":0.576},{"serie":"2026 — année en cours","jour":120,"v":0.523},{"serie":"2026 — année en cours","jour":122,"v":0.511},{"serie":"2026 — année en cours","jour":126,"v":0.622},{"serie":"2026 — année en cours","jour":129,"v":0.596},{"serie":"2026 — année en cours","jour":132,"v":0.633},{"serie":"2026 — année en cours","jour":135,"v":0.642},{"serie":"2026 — année en cours","jour":139,"v":0.638},{"serie":"2026 — année en cours","jour":143,"v":0.576},{"serie":"2026 — année en cours","jour":147,"v":0.484},{"serie":"2026 — année en cours","jour":152,"v":0.42},{"serie":"2026 — année en cours","jour":157,"v":0.447},{"serie":"2026 — année en cours","jour":162,"v":0.408},{"serie":"2026 — année en cours","jour":168,"v":0.339},{"serie":"2026 — année en cours","jour":174,"v":0.278},{"serie":"2026 — année en cours","jour":179,"v":0.252},{"serie":"2026 — année en cours","jour":182,"v":0.252},{"serie":"2026 — année en cours","jour":191,"v":0.186},{"serie":"2026 — année en cours","jour":196,"v":0.167},{"serie":"2026 — année en cours","jour":198,"v":0.186},{"serie":"2026 — année en cours","jour":206,"v":0.144},{"serie":"2026 — année en cours","jour":208,"v":0.151},{"serie":"2026 — année en cours","jour":213,"v":0.126},{"serie":"2026 — année en cours","jour":217,"v":0.126}
]
},
"layer":[
{"data":{"values":[{"jour":16.5},{"jour":46},{"jour":75.5},{"jour":106},{"jour":136.5},{"jour":167},{"jour":197.5},{"jour":228.5},{"jour":259},{"jour":289.5},{"jour":320},{"jour":350}]},
"mark":{"type":"rule","color":"#ebebeb","strokeWidth":1},
"encoding":{"x":{"field":"jour","type":"quantitative","scale":{"domain":[1,365],"nice":false,"zero":false},"title":null,
"axis":{"values":[1,32,60,91,121,152,182,213,244,274,305,335],"labelExpr":"['jan.','févr.','mars','avr.','mai','juin','juil.','août','sept.','oct.','nov.','déc.'][indexof([1,32,60,91,121,152,182,213,244,274,305,335],datum.value)]","domain":false,"grid":true,"gridColor":"#cccccc","gridWidth":1.5,"tickColor":"#333333","tickSize":5,"tickWidth":1.5,"labelColor":"#4d4d4d","labelFont":"Roboto Condensed","labelFontWeight":"bold","labelFontSize":14,"labelPadding":5,"labelFlush":false,"labelBound":false,"labelOverlap":false}}}},
{"data":{"values":[{"v":0.1},{"v":0.3},{"v":0.5},{"v":0.7},{"v":0.9},{"v":1.1},{"v":1.3}]},
"mark":{"type":"rule","color":"#ebebeb","strokeWidth":1},
"encoding":{"y":{"field":"v","type":"quantitative","scale":{"domain":[-0.025,1.47],"nice":false,"zero":false},"title":"Indice d'humidité des sols — SWI",
"axis":{"values":[0,0.2,0.4,0.6,0.8,1.0,1.2,1.4],"format":".1f","domain":false,"grid":true,"gridColor":"#cccccc","gridWidth":1.5,"tickColor":"#333333","tickSize":5,"tickWidth":1.5,"labelColor":"#4d4d4d","labelFont":"Roboto Condensed","labelFontWeight":"bold","labelFontSize":16,"labelPadding":4,"titleFont":"Roboto Condensed","titleFontSize":20,"titleFontWeight":"bold","titleColor":"black","titlePadding":16}}}},
{"data":{"name":"enveloppe"},"mark":{"type":"area","color":"#000000","opacity":0.12},
"encoding":{"x":{"field":"jour","type":"quantitative"},"y":{"field":"min","type":"quantitative"},"y2":{"field":"max"}}},
{"data":{"name":"enveloppe"},"mark":{"type":"area","color":"#808080","opacity":0.62},
"encoding":{"x":{"field":"jour","type":"quantitative"},"y":{"field":"bas","type":"quantitative"},"y2":{"field":"haut"}}},
{"data":{"name":"traces"},"mark":{"type":"line","color":"#555555","opacity":0.35,"strokeWidth":0.7},
"encoding":{"x":{"field":"jour","type":"quantitative"},"y":{"field":"v","type":"quantitative"},"detail":{"field":"t"}}},
{"data":{"values":[{"v":1.0}]},"mark":{"type":"rule","color":"#0066ff","strokeWidth":4},"encoding":{"y":{"field":"v","type":"quantitative"}}},
{"data":{"values":[{"v":0.4}]},"mark":{"type":"rule","color":"#0066ff","strokeWidth":4,"strokeDash":[16.7,16.6]},"encoding":{"y":{"field":"v","type":"quantitative"}}},
{"data":{"name":"annees"},"mark":{"type":"line","strokeJoin":"round","strokeCap":"round"},
"encoding":{"x":{"field":"jour","type":"quantitative"},"y":{"field":"v","type":"quantitative"},
"color":{"field":"serie","type":"nominal","scale":{"domain":["2022","2003","1976","2026 — année en cours"],"range":["#8b1a1a","#d95f02","#e6ab02","#000000"]},
"legend":{"title":null,"orient":"none","legendX":11,"legendY":684,"direction":"horizontal","symbolType":"stroke","symbolSize":1900,"labelFont":"Roboto Condensed","labelFontWeight":"bold","labelFontSize":15,"labelColor":"black","labelOffset":12,"columnPadding":5}},
"strokeWidth":{"field":"serie","type":"nominal","scale":{"type":"ordinal","domain":["2022","2003","1976","2026 — année en cours"],"range":[4.5,4.5,4.5,7.5]}}}},
{"data":{"values":[{"jour":361.4,"v":1.025,"texte":"seuil de saturation"},{"jour":361.4,"v":0.424,"texte":"seuil de sécheresse"}]},
"mark":{"type":"text","align":"right","baseline":"alphabetic","color":"#0066ff","font":"Roboto Condensed","fontWeight":"bold","fontSize":17},
"encoding":{"x":{"field":"jour","type":"quantitative"},"y":{"field":"v","type":"quantitative"},"text":{"field":"texte"}}},
{"data":{"values":[{"jour":30,"v":0.105,"texte":"AGRO"}]},
"mark":{"type":"text","align":"center","baseline":"alphabetic","color":"#5f8a96","font":"Roboto Condensed","fontSize":29},
"encoding":{"x":{"field":"jour","type":"quantitative"},"y":{"field":"v","type":"quantitative"},"text":{"field":"texte"}}},
{"data":{"values":[{"jour":37,"v":0.037,"texte":"CLIMAT"}]},
"mark":{"type":"text","align":"center","baseline":"alphabetic","color":"#6a5a3c","font":"Roboto Condensed","fontSize":25},
"encoding":{"x":{"field":"jour","type":"quantitative"},"y":{"field":"v","type":"quantitative"},"text":{"field":"texte"}}},
{"data":{"values":[{"jour":32,"v":0.096}]},
"mark":{"type":"point","shape":"M-1,0 A1,1 0 0 1 1,0","size":620,"filled":false,"color":"#5f8a96","strokeWidth":2,"opacity":1},
"encoding":{"x":{"field":"jour","type":"quantitative"},"y":{"field":"v","type":"quantitative"}}},
{"data":{"values":[{"jour":32,"v":0.096}]},
"mark":{"type":"point","shape":"M-1,0 A1,1 0 0 0 1,0","size":620,"filled":false,"color":"#6a5a3c","strokeWidth":2,"opacity":1},
"encoding":{"x":{"field":"jour","type":"quantitative"},"y":{"field":"v","type":"quantitative"}}},
{"data":{"values":[{"jour":32,"v":0.096}]},
"mark":{"type":"point","shape":"M-1,0.3 Q0,0.7 1,0.3 Q0.5,0.3 0.5,0.1 L0.4,-0.5 Q0,-0.3 -0.4,-0.5 L-0.5,0.1 Q-0.5,0.3 -1,0.3 Z","size":420,"filled":true,"color":"#6a5a3c","opacity":1},
"encoding":{"x":{"field":"jour","type":"quantitative"},"y":{"field":"v","type":"quantitative"}}},
{"data":{"values":[{"jour":365,"v":-0.252,"texte":"(c) Graphique : Agroclimat2050.fr | (c) Données : Météo-France Open Data SWI"}]},
"mark":{"type":"text","align":"right","baseline":"alphabetic","color":"black","font":"Roboto Condensed","fontWeight":"bold","fontSize":12.4},
"encoding":{"x":{"field":"jour","type":"quantitative"},"y":{"field":"v","type":"quantitative"},"text":{"field":"texte"}}}
]
}
